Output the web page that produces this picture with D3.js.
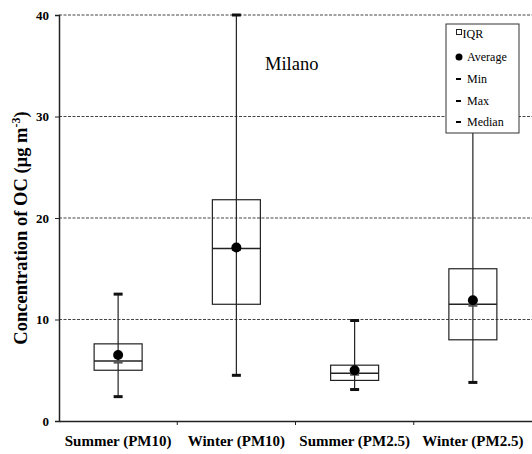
<!DOCTYPE html>
<html>
<head>
<meta charset="utf-8">
<script src="https://cdn.jsdelivr.net/npm/d3@7"></script>
<style>
  html, body { margin: 0; padding: 0; background: #fff; }
  svg { display: block; }
</style>
</head>
<body>
<svg id="chart" width="532" height="454" font-family="Liberation Serif"></svg>
<script>
// OC concentration statistics (µg m^-3) for each season / size fraction
const categories = ["Summer (PM10)", "Winter (PM10)", "Summer (PM2.5)", "Winter (PM2.5)"];
const minValues    = [2.4, 4.5, 3.1, 3.8];
const q1Values     = [5.0, 11.5, 4.0, 8.0];
const medianValues = [5.9, 17.0, 4.7, 11.5];
const q3Values     = [7.6, 21.8, 5.5, 15.0];
const maxValues    = [12.5, 40.0, 9.9, 35.0];
const meanValues   = [6.5, 17.1, 5.0, 11.9];
const yTicks = [0, 10, 20, 30, 40];
const legendItems = ["IQR", "Average", "Min", "Max", "Median"];

const FONT = "Liberation Serif";
const svg = d3.select("#chart");
const plotLeft = 59, plotRight = 532, plotTop = 15, plotBottom = 421;

const x = d3.scaleBand().domain(categories).range([plotLeft, plotRight]);
const y = d3.scaleLinear().domain([0, 40]).range([plotBottom, plotTop]);

// horizontal dashed gridlines
svg.append("g").selectAll("line")
  .data(yTicks.filter(d => d > 0))
  .join("line")
  .attr("x1", plotLeft).attr("x2", plotRight)
  .attr("y1", d => y(d)).attr("y2", d => y(d))
  .attr("stroke", "#444").attr("stroke-width", 1)
  .attr("stroke-dasharray", "3,1.5");

// y axis
const yAxis = svg.append("g")
  .attr("transform", `translate(${plotLeft},0)`)
  .call(d3.axisLeft(y).tickValues(yTicks).tickSize(4).tickPadding(6))
  .attr("font-family", FONT);
yAxis.select(".domain").attr("stroke", "#222").attr("stroke-width", 1.5);
yAxis.selectAll(".tick line").attr("stroke", "#222");
yAxis.selectAll(".tick text")
  .attr("font-family", FONT)
  .attr("font-weight", "bold").attr("font-size", 13).attr("fill", "#000");

// x axis
const xAxis = svg.append("g")
  .attr("transform", `translate(0,${plotBottom})`)
  .call(d3.axisBottom(x).tickSize(0).tickPadding(0))
  .attr("font-family", FONT);
xAxis.select(".domain").attr("stroke", "#222").attr("stroke-width", 1.5);
xAxis.selectAll(".tick text")
  .attr("dy", null).attr("y", 25)
  .attr("font-family", FONT)
  .attr("font-weight", "bold").attr("font-size", 15).attr("fill", "#000");
// small ticks between categories
svg.append("g").selectAll("line")
  .data(categories.slice(1))
  .join("line")
  .attr("x1", d => x(d)).attr("x2", d => x(d))
  .attr("y1", plotBottom).attr("y2", plotBottom + 4)
  .attr("stroke", "#222");

// y axis title
svg.append("text")
  .attr("transform", `translate(27,228) rotate(-90)`)
  .attr("text-anchor", "middle")
  .attr("font-family", FONT)
  .attr("font-weight", "bold").attr("font-size", 18.5)
  .call(t => {
    t.append("tspan").text("Concentration of OC (µg m");
    t.append("tspan").attr("dy", -7).attr("font-size", 12).text("-3");
    t.append("tspan").attr("dy", 7).text(")");
  });

// box plots
const rows = categories.map((c, i) => ({
  c, min: minValues[i], q1: q1Values[i], med: medianValues[i],
  q3: q3Values[i], max: maxValues[i], mean: meanValues[i]
}));
const boxW = 48, capW = 9;
const g = svg.append("g");
const cx = d => x(d.c) + x.bandwidth() / 2;

g.selectAll(".whisker").data(rows).join("line")
  .attr("x1", cx).attr("x2", cx)
  .attr("y1", d => y(d.min)).attr("y2", d => y(d.max))
  .attr("stroke", "#222").attr("stroke-width", 1.2);

g.selectAll(".box").data(rows).join("rect")
  .attr("x", d => cx(d) - boxW / 2).attr("width", boxW)
  .attr("y", d => y(d.q3)).attr("height", d => y(d.q1) - y(d.q3))
  .attr("fill", "none").attr("stroke", "#222").attr("stroke-width", 1.2);

g.selectAll(".median").data(rows).join("line")
  .attr("x1", d => cx(d) - boxW / 2).attr("x2", d => cx(d) + boxW / 2)
  .attr("y1", d => y(d.med)).attr("y2", d => y(d.med))
  .attr("stroke", "#222").attr("stroke-width", 1.5);

g.selectAll(".medcap").data(rows).join("line")
  .attr("x1", d => cx(d) - capW / 2).attr("x2", d => cx(d) + capW / 2)
  .attr("y1", d => y(d.med) + 1).attr("y2", d => y(d.med) + 1)
  .attr("stroke", "#555").attr("stroke-width", 3);

["min", "max"].forEach(k => {
  g.selectAll(".cap-" + k).data(rows).join("line")
    .attr("class", "cap-" + k)
    .attr("x1", d => cx(d) - capW / 2).attr("x2", d => cx(d) + capW / 2)
    .attr("y1", d => y(d[k])).attr("y2", d => y(d[k]))
    .attr("stroke", "#111").attr("stroke-width", 3);
});

g.selectAll(".mean").data(rows).join("circle")
  .attr("cx", cx).attr("cy", d => y(d.mean)).attr("r", 5)
  .attr("fill", "#000");

// site label
svg.append("text")
  .attr("x", 265).attr("y", 70)
  .attr("font-family", FONT)
  .attr("font-size", 18.5).attr("fill", "#000")
  .text("Milano");

// legend
const lg = svg.append("g");
lg.append("rect")
  .attr("x", 446).attr("y", 24).attr("width", 73).attr("height", 109)
  .attr("fill", "#fff").attr("stroke", "#333").attr("stroke-width", 1);
const ly = [38, 61, 83, 105, 126];
legendItems.forEach((name, i) => {
  const yy = ly[i];
  if (name === "IQR") {
    lg.append("rect").attr("x", 456.5).attr("y", yy - 8.5).attr("width", 5).attr("height", 5)
      .attr("fill", "#fff").attr("stroke", "#222");
  } else if (name === "Average") {
    lg.append("circle").attr("cx", 459).attr("cy", yy - 4).attr("r", 3.5).attr("fill", "#000");
  } else {
    lg.append("line").attr("x1", 456).attr("x2", 461).attr("y1", yy - 4).attr("y2", yy - 4)
      .attr("stroke", "#000").attr("stroke-width", 2);
  }
  lg.append("text")
    .attr("x", name === "IQR" ? 462.5 : 467).attr("y", yy)
    .attr("font-family", FONT)
    .attr("font-size", 12).attr("fill", "#000")
    .text(name);
});
</script>
</body>
</html>
